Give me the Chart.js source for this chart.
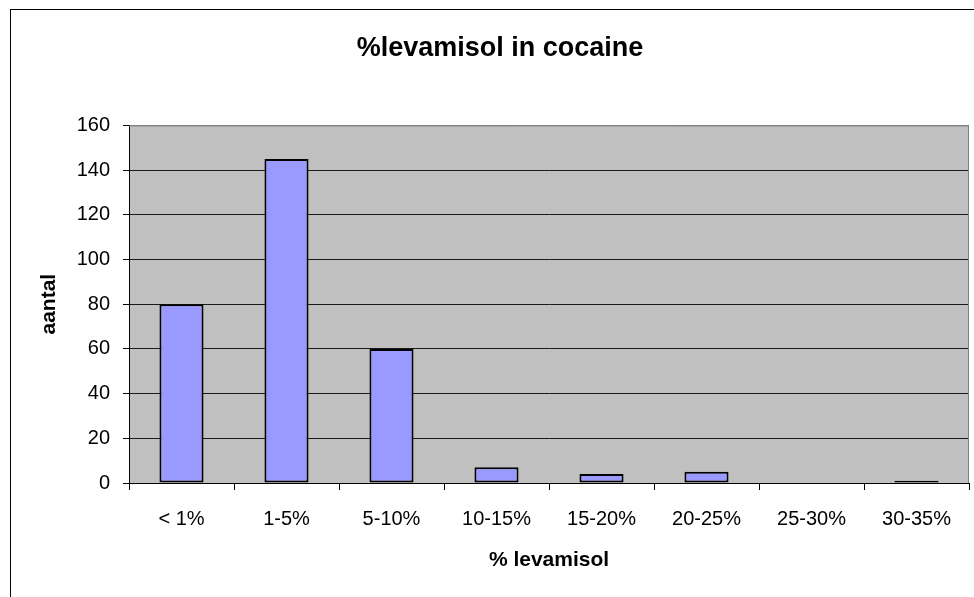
<!DOCTYPE html>
<html>
<head>
<meta charset="utf-8">
<script src="https://cdn.jsdelivr.net/npm/chart.js@4/dist/chart.umd.min.js"></script>
<style>
  html, body { margin: 0; padding: 0; background: #ffffff; }
  #wrap { width: 974px; height: 597px; }
</style>
</head>
<body>
<div id="wrap"><canvas id="c" width="974" height="597"></canvas></div>
<script>
const categories = ['< 1%', '1-5%', '5-10%', '10-15%', '15-20%', '20-25%', '25-30%', '30-35%'];
const counts = [80, 145, 60, 7, 4, 5, 0, 1];
const yTicks = [0, 20, 40, 60, 80, 100, 120, 140, 160];
const chartTitle = '%levamisol in cocaine';
const xTitle = '% levamisol';
const yTitle = 'aantal';

const FONT = "'Liberation Sans', Arial, sans-serif";

const framePlugin = {
  id: 'frame',
  beforeDraw(chart) {
    const ctx = chart.ctx;
    const a = chart.chartArea;
    ctx.save();
    ctx.fillStyle = '#ffffff';
    ctx.fillRect(0, 0, chart.width, chart.height);
    // outer frame
    ctx.strokeStyle = '#000000';
    ctx.lineWidth = 1;
    ctx.strokeRect(10.5, 9.5, chart.width + 20, chart.height + 20);
    // plot background
    ctx.fillStyle = '#C0C0C0';
    ctx.fillRect(a.left, a.top, a.right - a.left, a.bottom - a.top);
    ctx.restore();
  },
  afterDatasetsDraw(chart) {
    const ctx = chart.ctx;
    const a = chart.chartArea;
    ctx.save();
    ctx.strokeStyle = '#808080';
    ctx.lineWidth = 1;
    ctx.beginPath();
    ctx.moveTo(a.left, a.top + 0.5);
    ctx.lineTo(a.right - 0.5, a.top + 0.5);
    ctx.lineTo(a.right - 0.5, a.bottom);
    ctx.stroke();
    ctx.restore();
  }
};

new Chart(document.getElementById('c'), {
  type: 'bar',
  data: {
    labels: categories,
    datasets: [{
      data: counts,
      backgroundColor: '#9999FF',
      borderColor: '#000000',
      borderWidth: 2,
      borderSkipped: false,
      barPercentage: 0.42,
      categoryPercentage: 1.0
    }]
  },
  plugins: [framePlugin],
  options: {
    responsive: false,
    animation: false,
    layout: { padding: { left: 31, right: 5, top: 0, bottom: 0 } },
    plugins: {
      legend: { display: false },
      tooltip: { enabled: false },
      title: {
        display: true,
        text: chartTitle,
        color: '#000000',
        font: { family: FONT, size: 27, weight: 'bold' },
        padding: { top: 32, bottom: 61 }
      }
    },
    scales: {
      x: {
        offset: true,
        grid: {
          offset: true,
          drawOnChartArea: false,
          drawTicks: true,
          tickLength: 7,
          color: '#000000'
        },
        border: { display: true, color: '#000000', width: 1 },
        ticks: {
          color: '#000000',
          font: { family: FONT, size: 20 },
          padding: 17,
          maxRotation: 0,
          autoSkip: false
        },
        title: {
          display: true,
          text: xTitle,
          color: '#000000',
          font: { family: FONT, size: 21, weight: 'bold' },
          padding: { top: 0, bottom: 24 }
        },
        afterFit(scale) { scale.height = 114; }
      },
      y: {
        min: 0,
        max: 160,
        afterBuildTicks(scale) { scale.ticks = yTicks.map(v => ({ value: v })); },
        grid: {
          color: (c) => (c.tick && c.tick.value === 160) ? '#808080' : '#1a1a1a',
          tickColor: '#000000',
          tickLength: 6,
          lineWidth: 1
        },
        border: { display: true, color: '#000000', width: 1 },
        ticks: {
          color: '#000000',
          font: { family: FONT, size: 20 },
          padding: 13
        },
        title: {
          display: true,
          text: yTitle,
          color: '#000000',
          font: { family: FONT, size: 21, weight: 'bold' },
          padding: { top: 6, bottom: 0 }
        },
        afterFit(scale) { scale.width = 98; }
      }
    }
  }
});
</script>
</body>
</html>
